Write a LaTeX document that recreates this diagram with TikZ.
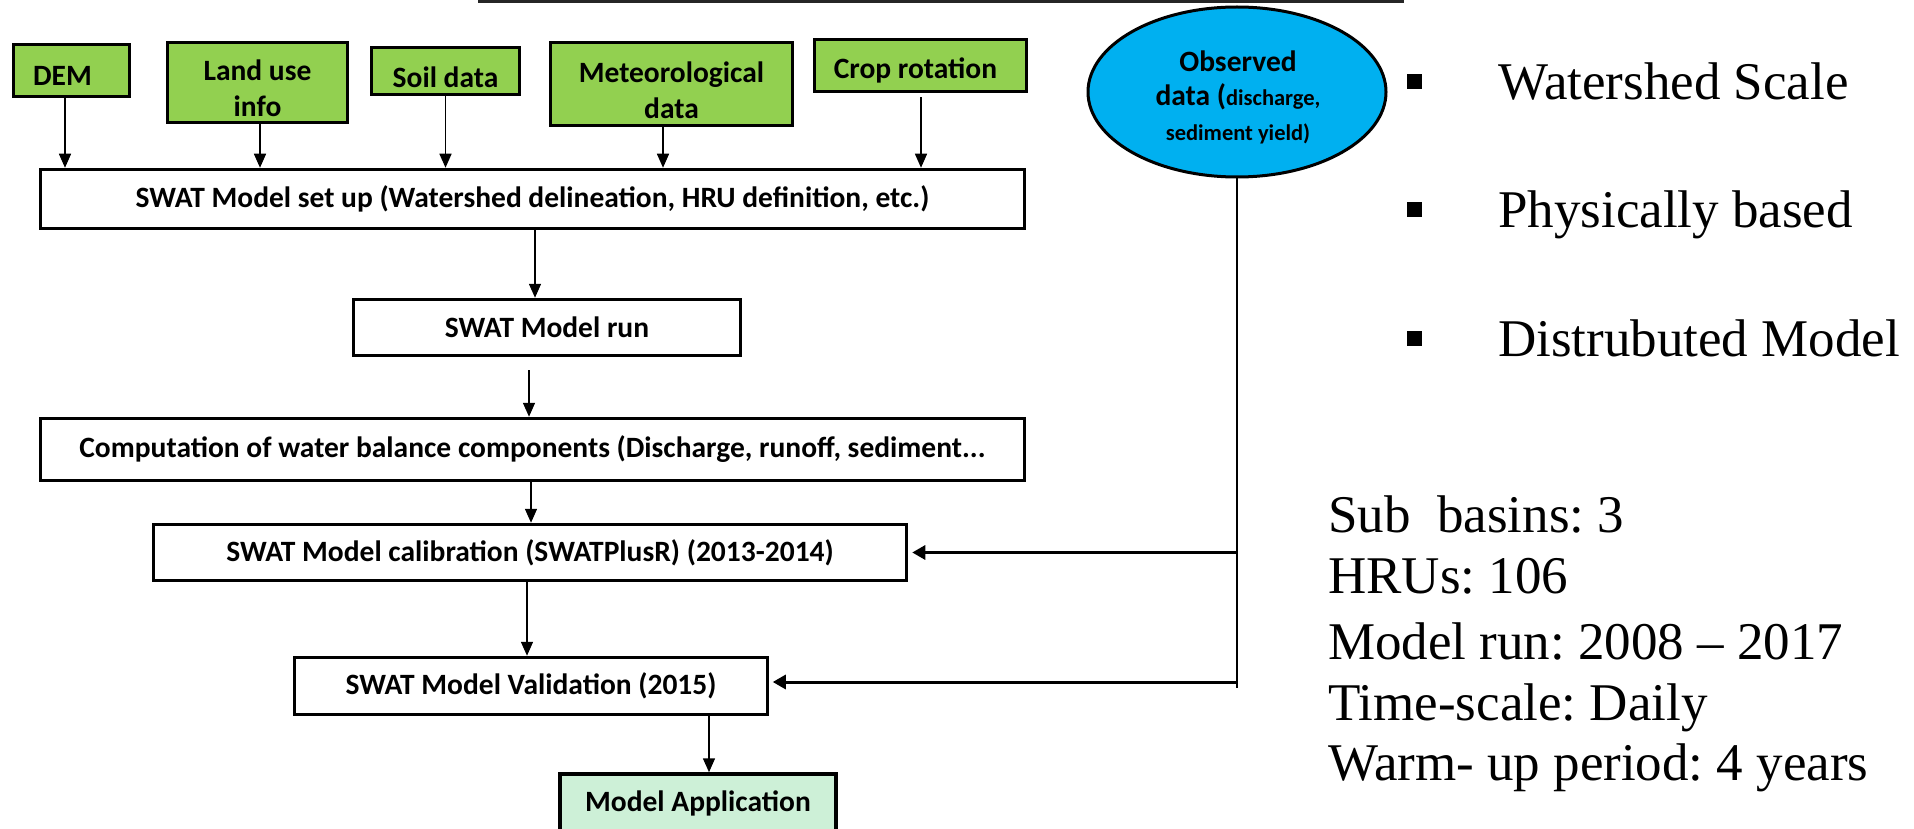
\documentclass[tikz,border=0pt]{standalone}
\usepackage{fontspec}
\setmainfont{Liberation Serif}
\newfontfamily\boxfont{Carlito}
\usetikzlibrary{arrows.meta,shapes.geometric,calc}
\definecolor{dgreen}{HTML}{92D050}
\definecolor{obsblue}{HTML}{00B0F0}
\definecolor{appgreen}{HTML}{CDF0D7}
\tikzset{
 boxtext/.style={inner sep=0pt, align=center,
   font=\boxfont\bfseries\fontsize{29.5}{36}\selectfont},
 basebox/.style={draw=black, line width=3.5pt, inner sep=0pt, boxtext},
 inbox/.style={basebox, fill=dgreen},
 procbox/.style={basebox, fill=white},
 appbox/.style={basebox, fill=appgreen},
 varr/.style={line width=1.5pt, -{Triangle[length=14pt,width=12pt]}},
 harr/.style={line width=3pt, -{Triangle[length=13pt,width=14pt]}},
 bul/.style={fill=black, minimum size=15pt, inner sep=0pt},
 rtext/.style={anchor=base west, inner sep=0pt, font=\frenchspacing\fontsize{53}{60}\selectfont},
}
\begin{document}
\begin{tikzpicture}[x=1pt,y=-1pt]
\useasboundingbox (0,0) rectangle (1914,829);
% partial top frame
\draw[line width=4pt, black!85] (480,-40) rectangle (1402,1.5);
% input boxes
\node[inbox, minimum width=116pt, minimum height=52pt] (dem) at (71.5,70.5) {};
\node[inbox, minimum width=180pt, minimum height=80pt] (land) at (257.5,82.5) {};
\node[inbox, minimum width=148pt, minimum height=47pt] (soil) at (445.5,71) {};
\node[inbox, minimum width=242pt, minimum height=83pt] (met) at (671.5,84) {};
\node[inbox, minimum width=212pt, minimum height=52pt] (crop) at (920.5,65.5) {};
\node[boxtext] (demt) at ([xshift=-9pt,yshift=-5pt]dem.center) {DEM};
\node[boxtext] (landt) at ([yshift=-6pt]land.center) {Land use\\info};
\node[boxtext] (soilt) at ([yshift=-6pt]soil.center) {Soil data};
\node[boxtext] (mett) at ([yshift=-6pt]met.center) {Meteorological\\data};
\node[boxtext] (cropt) at ([xshift=-5pt,yshift=-5pt]crop.center) {Crop rotation};
% process boxes
\node[procbox, minimum width=984pt, minimum height=59pt] (setup) at (532.5,199) {SWAT Model set up (Watershed delineation, HRU definition, etc.)};
\node[procbox, minimum width=387pt, minimum height=56pt] (run) at (547,327.5) {SWAT Model run};
\node[procbox, minimum width=984pt, minimum height=62pt] (comp) at (532.5,449.5) {Computation of water balance components (Discharge, runoff, sediment...};
\node[procbox, minimum width=753pt, minimum height=56pt] (calib) at (530,552.5) {SWAT Model calibration (SWATPlusR) (2013-2014)};
\node[procbox, minimum width=473pt, minimum height=57pt] (valid) at (531,686) {SWAT Model Validation (2015)};
\node[appbox, minimum width=276pt, minimum height=58pt] (app) at (698,803) {Model Application};
% observed data
\node[ellipse, draw=black, line width=3pt, fill=obsblue, minimum width=298pt, minimum height=170pt,
  inner sep=0pt] (obs) at (1237,92) {};
\node[boxtext, font=\boxfont\bfseries\fontsize{29.5}{34.5}\selectfont] (obst) at (1238,97)
  {Observed\\data ({\fontsize{22.5}{34.5}\selectfont discharge,}\\{\fontsize{22.5}{34.5}\selectfont sediment yield)}};
% input arrows
\draw[varr] ([xshift=-6.5pt]dem.south) -- ([xshift=-6.5pt]dem.south |- setup.north);
\draw[varr] ([xshift=2.5pt]land.south) -- ([xshift=2.5pt]land.south |- setup.north);
\draw[varr] (soil.south) -- (soil.south |- setup.north);
\draw[varr] ([xshift=-8.5pt]met.south) -- ([xshift=-8.5pt]met.south |- setup.north);
\draw[varr] ([xshift=0.5pt,yshift=-4pt]crop.south) -- ([xshift=0.5pt]crop.south |- setup.north);
% chain
\draw[varr] ([xshift=2.5pt]setup.south) -- ([xshift=2.5pt]setup.south |- run.north);
\draw[varr] ([xshift=-18pt,yshift=-13pt]run.south) -- ([xshift=-18pt]run.south |- comp.north);
\draw[varr] ([xshift=-1.5pt]comp.south) -- ([xshift=-1.5pt]comp.south |- calib.north);
\draw[varr] ([xshift=-3pt]calib.south) -- ([xshift=-3pt]calib.south |- valid.north);
\draw[varr] ([xshift=178pt]valid.south) -- ([xshift=178pt]valid.south |- app.north);
% observed feed
\coordinate (obsend) at (1238,688);
\draw[line width=1.5pt] (obs.south) -- (obs.south |- obsend);
\draw[harr] (obs.south |- calib.east) -- ([xshift=4pt]calib.east);
\draw[harr] ([yshift=4pt]obs.south |- valid.east) -- ([xshift=3.5pt,yshift=4pt]valid.east);
% bullets
\node[bul] (b1) at (1414.5,82) {};
\node[bul] (b2) at (1414.5,210) {};
\node[bul] (b3) at (1414.5,338) {};
\node[rtext] (t1) at (1498,100) {Watershed Scale};
\node[rtext] (t2) at (1498,228) {Physically based};
\node[rtext] (t3) at (1498,356) {Distrubuted Model};
% stats
\node[rtext] (s1) at (1328,532) {Sub\ \ basins: 3};
\node[rtext] (s2) at (1328,593) {HRUs: 106};
\node[rtext] (s3) at (1328,659) {Model run: 2008 – 2017};
\node[rtext] (s4) at (1328,720) {Time-scale: Daily};
\node[rtext] (s5) at (1328,780) {Warm- up period: 4 years};
\end{tikzpicture}
\end{document}
